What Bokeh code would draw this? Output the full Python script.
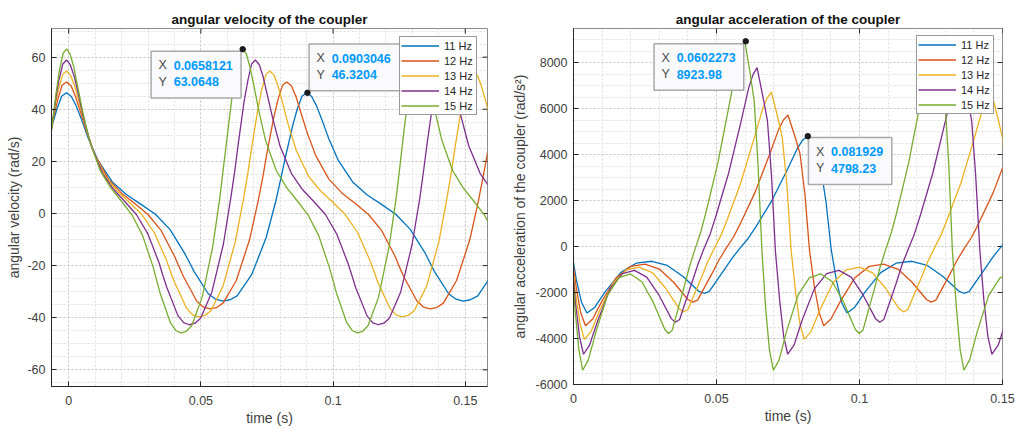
import math
from bokeh.plotting import figure
from bokeh.layouts import row
from bokeh.models import (FixedTicker, Legend, LegendItem, Range1d, CustomJSTickFormatter)
from bokeh.core.properties import value
from bokeh.embed import file_html
from bokeh.resources import INLINE

FONT = "Liberation Sans"

series_names = ["11 Hz", "12 Hz", "13 Hz", "14 Hz", "15 Hz"]
series_colors = ["#0072BD", "#D95319", "#EDB120", "#7E2F8E", "#77AC30"]

# ---- data (time in s) ----
t11 = [-0.0090, -0.0063, -0.0044, -0.0026,
       -0.0008, 0.0010, 0.0028, 0.0047, 0.0074, 0.0110, 0.0165, 0.0219, 0.0274, 0.0328, 0.0383, 0.0437, 0.0456,
       0.0474, 0.0528, 0.0556, 0.0583, 0.0610, 0.0637, 0.0692, 0.0747, 0.0783, 0.0801, 0.0819, 0.0847, 0.0865, 0.0883,
       0.0901, 0.0919, 0.0937, 0.0956, 0.0983, 0.1019, 0.1074, 0.1128, 0.1183, 0.1237, 0.1292, 0.1347, 0.1365,
       0.1383, 0.1437, 0.1465, 0.1492, 0.1519, 0.1547, 0.1601]
vel11 = [21.3, 33.6, 40.3, 45.1,
         46.3, 44.9, 41.4, 36.5, 28.9, 20.5, 12.1, 7.2, 3.5, -0.3, -6.1, -15.0, -18.6,
         -22.2, -30.8, -32.9, -33.6, -33.1, -31.6, -23.5, -9.2, 4.6, 12.8, 21.3, 33.6, 40.3, 45.1,
         46.3, 44.9, 41.4, 36.5, 28.9, 20.5, 12.1, 7.2, 3.5, -0.3, -6.1, -15.0, -18.6,
         -22.2, -30.8, -32.9, -33.6, -33.1, -31.6, -23.5]
acc11 = [4804, 3993, 3388, 1936,
         -121, -1452, -2420, -2892, -2650, -1984, -1137, -726, -641, -823, -1307, -1936, -2033,
         -1960, -992, -484, -61, 339, 847, 1960, 3328, 4271, 4622, 4804, 3993, 3388, 1936,
         -121, -1452, -2420, -2892, -2650, -1984, -1137, -726, -641, -823, -1307, -1936, -2033,
         -1960, -992, -484, -61, 339, 847, 1960]

t12 = [-0.0083, -0.0058, -0.0041, -0.0025,
       -0.0008, 0.0009, 0.0025, 0.0042, 0.0067, 0.0100, 0.0150, 0.0200, 0.0250, 0.0300, 0.0350, 0.0400, 0.0417,
       0.0434, 0.0484, 0.0509, 0.0534, 0.0559, 0.0584, 0.0634, 0.0684, 0.0717, 0.0734, 0.0750, 0.0775, 0.0792, 0.0809,
       0.0825, 0.0842, 0.0859, 0.0875, 0.0900, 0.0934, 0.0984, 0.1034, 0.1084, 0.1134, 0.1184, 0.1234, 0.1250,
       0.1267, 0.1317, 0.1342, 0.1367, 0.1392, 0.1417, 0.1467, 0.1517, 0.1550, 0.1567, 0.1584]
vel12 = [23.3, 36.6, 43.9, 49.2,
         50.5, 49.0, 45.1, 39.8, 31.6, 22.3, 13.2, 7.8, 3.8, -0.4, -6.6, -16.3, -20.3,
         -24.2, -33.6, -35.9, -36.6, -36.1, -34.4, -25.7, -10.1, 5.0, 13.9, 23.3, 36.6, 43.9, 49.2,
         50.5, 49.0, 45.1, 39.8, 31.6, 22.3, 13.2, 7.8, 3.8, -0.4, -6.6, -16.3, -20.3,
         -24.2, -33.6, -35.9, -36.6, -36.1, -34.4, -25.7, -10.1, 5.0, 13.9, 23.3]
acc12 = [5717, 4752, 4032, 2304,
         -144, -1728, -2880, -3442, -3154, -2362, -1354, -864, -763, -979, -1555, -2304, -2419,
         -2333, -1181, -576, -72, 403, 1008, 2333, 3960, 5083, 5501, 5717, 4752, 4032, 2304,
         -144, -1728, -2880, -3442, -3154, -2362, -1354, -864, -763, -979, -1555, -2304, -2419,
         -2333, -1181, -576, -72, 403, 1008, 2333, 3960, 5083, 5501, 5717]

t13 = [-0.0077, -0.0054, -0.0039, -0.0023,
       -0.0008, 0.0007, 0.0023, 0.0038, 0.0061, 0.0092, 0.0138, 0.0184, 0.0230, 0.0277, 0.0323, 0.0369, 0.0384,
       0.0400, 0.0446, 0.0469, 0.0492, 0.0515, 0.0538, 0.0584, 0.0630, 0.0661, 0.0677, 0.0692, 0.0715, 0.0730, 0.0746,
       0.0761, 0.0777, 0.0792, 0.0807, 0.0830, 0.0861, 0.0907, 0.0954, 0.1000, 0.1046, 0.1092, 0.1138, 0.1154,
       0.1169, 0.1215, 0.1238, 0.1261, 0.1284, 0.1307, 0.1354, 0.1400, 0.1430, 0.1446, 0.1461, 0.1484, 0.1500, 0.1515,
       0.1530, 0.1546, 0.1561, 0.1577, 0.1600]
vel13 = [25.2, 39.7, 47.6, 53.3,
         54.7, 53.0, 48.9, 43.2, 34.2, 24.2, 14.3, 8.5, 4.2, -0.4, -7.2, -17.7, -22.0,
         -26.3, -36.4, -38.9, -39.7, -39.1, -37.3, -27.8, -10.9, 5.5, 15.1, 25.2, 39.7, 47.6, 53.3,
         54.7, 53.0, 48.9, 43.2, 34.2, 24.2, 14.3, 8.5, 4.2, -0.4, -7.2, -17.7, -22.0,
         -26.3, -36.4, -38.9, -39.7, -39.1, -37.3, -27.8, -10.9, 5.5, 15.1, 25.2, 39.7, 47.6, 53.3,
         54.7, 53.0, 48.9, 43.2, 34.2]
acc13 = [6709, 5577, 4732, 2704,
         -169, -2028, -3380, -4039, -3701, -2772, -1589, -1014, -896, -1149, -1825, -2704, -2839,
         -2738, -1386, -676, -85, 473, 1183, 2738, 4648, 5966, 6456, 6709, 5577, 4732, 2704,
         -169, -2028, -3380, -4039, -3701, -2772, -1589, -1014, -896, -1149, -1825, -2704, -2839,
         -2738, -1386, -676, -85, 473, 1183, 2738, 4648, 5966, 6456, 6709, 5577, 4732, 2704,
         -169, -2028, -3380, -4039, -3701]

t14 = [-0.0072, -0.0051, -0.0037, -0.0022,
       -0.0008, 0.0006, 0.0021, 0.0035, 0.0056, 0.0085, 0.0128, 0.0171, 0.0213, 0.0256, 0.0299, 0.0342, 0.0356,
       0.0371, 0.0413, 0.0435, 0.0456, 0.0478, 0.0499, 0.0542, 0.0585, 0.0613, 0.0628, 0.0642, 0.0663, 0.0678, 0.0692,
       0.0706, 0.0721, 0.0735, 0.0749, 0.0771, 0.0799, 0.0842, 0.0885, 0.0928, 0.0971, 0.1013, 0.1056, 0.1071,
       0.1085, 0.1128, 0.1149, 0.1171, 0.1192, 0.1213, 0.1256, 0.1299, 0.1328, 0.1342, 0.1356, 0.1378, 0.1392, 0.1406,
       0.1421, 0.1435, 0.1449, 0.1463, 0.1485, 0.1513, 0.1556, 0.1599]
vel14 = [27.2, 42.7, 51.2, 57.4,
         58.9, 57.1, 52.6, 46.5, 36.8, 26.0, 15.4, 9.1, 4.5, -0.4, -7.7, -19.0, -23.7,
         -28.3, -39.2, -41.9, -42.7, -42.1, -40.2, -30.0, -11.8, 5.9, 16.2, 27.2, 42.7, 51.2, 57.4,
         58.9, 57.1, 52.6, 46.5, 36.8, 26.0, 15.4, 9.1, 4.5, -0.4, -7.7, -19.0, -23.7,
         -28.3, -39.2, -41.9, -42.7, -42.1, -40.2, -30.0, -11.8, 5.9, 16.2, 27.2, 42.7, 51.2, 57.4,
         58.9, 57.1, 52.6, 46.5, 36.8, 26.0, 15.4, 9.1]
acc14 = [7781, 6468, 5488, 3136,
         -196, -2352, -3920, -4684, -4292, -3214, -1842, -1176, -1039, -1333, -2117, -3136, -3293,
         -3175, -1607, -784, -98, 549, 1372, 3175, 5390, 6919, 7487, 7781, 6468, 5488, 3136,
         -196, -2352, -3920, -4684, -4292, -3214, -1842, -1176, -1039, -1333, -2117, -3136, -3293,
         -3175, -1607, -784, -98, 549, 1372, 3175, 5390, 6919, 7487, 7781, 6468, 5488, 3136,
         -196, -2352, -3920, -4684, -4292, -3214, -1842, -1176]

t15 = [-0.0068, -0.0048, -0.0035, -0.0021,
       -0.0008, 0.0005, 0.0019, 0.0032, 0.0052, 0.0079, 0.0119, 0.0159, 0.0199, 0.0239, 0.0279, 0.0319, 0.0332,
       0.0345, 0.0385, 0.0405, 0.0425, 0.0445, 0.0465, 0.0505, 0.0545, 0.0572, 0.0585, 0.0599, 0.0619, 0.0632, 0.0645,
       0.0659, 0.0672, 0.0685, 0.0699, 0.0719, 0.0745, 0.0785, 0.0825, 0.0865, 0.0905, 0.0945, 0.0985, 0.0999,
       0.1012, 0.1052, 0.1072, 0.1092, 0.1112, 0.1132, 0.1172, 0.1212, 0.1239, 0.1252, 0.1265, 0.1285, 0.1299, 0.1312,
       0.1325, 0.1339, 0.1352, 0.1365, 0.1385, 0.1412, 0.1452, 0.1492, 0.1532, 0.1572, 0.1612]
vel15 = [29.1, 45.8, 54.9, 61.5,
         63.2, 61.2, 56.4, 49.8, 39.5, 27.9, 16.5, 9.8, 4.8, -0.5, -8.3, -20.4, -25.4,
         -30.3, -42.0, -44.9, -45.8, -45.2, -43.1, -32.1, -12.6, 6.3, 17.4, 29.1, 45.8, 54.9, 61.5,
         63.2, 61.2, 56.4, 49.8, 39.5, 27.9, 16.5, 9.8, 4.8, -0.5, -8.3, -20.4, -25.4,
         -30.3, -42.0, -44.9, -45.8, -45.2, -43.1, -32.1, -12.6, 6.3, 17.4, 29.1, 45.8, 54.9, 61.5,
         63.2, 61.2, 56.4, 49.8, 39.5, 27.9, 16.5, 9.8, 4.8, -0.5, -8.3]
acc15 = [8933, 7425, 6300, 3600,
         -225, -2700, -4500, -5378, -4928, -3690, -2115, -1350, -1193, -1530, -2430, -3600, -3780,
         -3645, -1845, -900, -113, 630, 1575, 3645, 6188, 7943, 8595, 8933, 7425, 6300, 3600,
         -225, -2700, -4500, -5378, -4928, -3690, -2115, -1350, -1193, -1530, -2430, -3600, -3780,
         -3645, -1845, -900, -113, 630, 1575, 3645, 6188, 7943, 8595, 8933, 7425, 6300, 3600,
         -225, -2700, -4500, -5378, -4928, -3690, -2115, -1350, -1193, -1530, -2430]

times = [t11, t12, t13, t14, t15]
velocities = [vel11, vel12, vel13, vel14, vel15]
accelerations = [acc11, acc12, acc13, acc14, acc15]

# data tips
vel_tip_x = [0.0658121, 0.0903046]
vel_tip_y = [63.0648, 46.3204]
vel_tip_xtext = ["0.0658121", "0.0903046"]
vel_tip_ytext = ["63.0648", "46.3204"]
acc_tip_x = [0.0602273, 0.081929]
acc_tip_y = [8923.98, 4798.23]
acc_tip_xtext = ["0.0602273", "0.081929"]
acc_tip_ytext = ["8923.98", "4798.23"]

# ticks
time_ticks = [0, 0.05, 0.1, 0.15]
time_tick_labels = ["0", "0.05", "0.1", "0.15"]
vel_ticks = [-60, -40, -20, 0, 20, 40, 60]
vel_tick_labels = ["-60", "-40", "-20", "0", "20", "40", "60"]
acc_ticks = [-6000, -4000, -2000, 0, 2000, 4000, 6000, 8000]
acc_tick_labels = ["-6000", "-4000", "-2000", "0", "2000", "4000", "6000", "8000"]
time_minor = [i * 0.01 for i in range(0, 16)]
vel_minor = [i * 5 for i in range(-13, 15)]
acc_minor = [i * 500 for i in range(-12, 19)]

TXT = "#262626"
LBL = "#404040"


def fmt(tk, lb):
    return CustomJSTickFormatter(args=dict(tk_list=tk, lb_list=lb), code="""
        for (let i = 0; i < tk_list.length; i++) {
            if (Math.abs(tk_list[i] - tick) < 1e-9) { return lb_list[i]; }
        }
        return '';
    """)


def make_fig(title, xr, yr, fw, fh, borders, xt, xl, xm, yt, yl, ym, xlabel, ylabel, ylab_standoff):
    p = figure(frame_width=fw, frame_height=fh, x_range=Range1d(*xr), y_range=Range1d(*yr),
               output_backend="svg", toolbar_location=None, title=title,
               min_border_left=borders[0], min_border_right=borders[1],
               min_border_top=borders[2], min_border_bottom=borders[3],
               background_fill_color="white", border_fill_color="white",
               outline_line_color="#8c8c8c")
    p.title.text_font = FONT
    p.title.text_font_size = "13.5px"
    p.title.text_font_style = "bold"
    p.title.text_color = "#111111"
    p.title.align = "center"
    p.title.standoff = 3

    xtick = FixedTicker(ticks=xt, minor_ticks=xm)
    ytick = FixedTicker(ticks=yt, minor_ticks=ym)
    xa = p.xaxis[0]
    ya = p.yaxis[0]
    xa.ticker = xtick
    ya.ticker = ytick
    p.xgrid.ticker = xtick
    p.ygrid.ticker = ytick
    xa.formatter = fmt(xt, xl)
    ya.formatter = fmt(yt, yl)
    for ax in (xa, ya):
        ax.major_label_text_font = FONT
        ax.major_label_text_font_size = "12.5px"
        ax.major_label_text_color = LBL
        ax.axis_label_text_font = FONT
        ax.axis_label_text_font_size = "14px"
        ax.axis_label_text_font_style = "normal"
        ax.axis_label_text_color = LBL
        ax.major_tick_in = 5
        ax.major_tick_out = 0
        ax.minor_tick_in = 0
        ax.minor_tick_out = 0
        ax.axis_line_color = TXT
        ax.major_tick_line_color = TXT
    xa.axis_label = xlabel
    ya.axis_label = ylabel
    xa.major_label_standoff = 9
    xa.axis_label_standoff = 2
    ya.major_label_standoff = 6
    ya.axis_label_standoff = ylab_standoff

    # inward ticks on the top and right edges of the box (clipped to the frame)
    p.scatter(x=xt, y=[yr[1]] * len(xt), marker="dash", size=10, angle=math.pi / 2,
              line_color=TXT, line_width=1)
    p.scatter(x=[xr[1]] * len(yt), y=yt, marker="dash", size=10, angle=0,
              line_color=TXT, line_width=1)

    for g in (p.xgrid, p.ygrid):
        g.grid_line_color = "#c9c9c9"
        g.grid_line_dash = "2 2"
        g.grid_line_width = 1
        g.minor_grid_line_color = "#dedede"
        g.minor_grid_line_dash = "2 2"
        g.minor_grid_line_width = 1
    return p


def add_tip(p, tx, ty, xtext, ytext, left, top, w, h, xr, yr, fw, fh):
    sx = fw / (xr[1] - xr[0])
    sy = fh / (yr[1] - yr[0])
    cx = tx + (left + w / 2.0) / sx
    cy = ty - (top + h / 2.0) / sy
    p.rect(x=[cx], y=[cy], width=w, height=h, width_units="screen", height_units="screen",
           fill_color="#fafafc", line_color="#a9a9a9", line_width=1.5)
    p.text(x=[tx, tx], y=[ty, ty], text=["X", "Y"], x_offset=left + 7.5,
           y_offset=[top + 14.3, top + 30.8], text_align="left", text_baseline="middle",
           text_font=value(FONT), text_font_size="12.5px", text_color="#4a4a4a")
    p.text(x=[tx, tx], y=[ty, ty], text=[xtext, ytext], x_offset=left + 22.6,
           y_offset=[top + 14.3, top + 30.8], text_align="left", text_baseline="middle",
           text_font=value(FONT), text_font_size="12.5px", text_font_style="bold",
           text_color="#0099ff")
    p.scatter(x=[tx], y=[ty], size=5.5, fill_color="#1a1a1a", line_color="#1a1a1a")


def add_legend(p, rends, loc):
    lg = Legend(items=[LegendItem(label=n, renderers=[r]) for n, r in zip(series_names, rends)],
                location=loc, margin=0, padding=1, spacing=0,
                glyph_width=38, glyph_height=15, label_height=15, label_width=31,
                label_standoff=5, border_line_color="#333333", border_line_width=1,
                background_fill_color="white", background_fill_alpha=1.0,
                label_text_font=FONT, label_text_font_size="11px", label_text_color=TXT)
    p.add_layout(lg)


# ---- left: angular velocity ----
vx = (-0.0065, 0.1584)
vy = (-66.4, 71.0)
p1 = make_fig("angular velocity of the coupler", vx, vy, 436, 358, (51, 21, 28, 43),
              time_ticks, time_tick_labels, time_minor, vel_ticks, vel_tick_labels, vel_minor,
              "time (s)", "angular velocity (rad/s)", 2)
r1 = [p1.line(t, v, line_color=c, line_width=1.3) for t, v, c in zip(times, velocities, series_colors)]
add_tip(p1, vel_tip_x[0], vel_tip_y[0], vel_tip_xtext[0], vel_tip_ytext[0], -91.6, 2.0, 90, 46.7, vx, vy, 436, 358)
add_tip(p1, vel_tip_x[1], vel_tip_y[1], vel_tip_xtext[1], vel_tip_ytext[1], 1.6, -48.7, 92, 46.7, vx, vy, 436, 358)
add_legend(p1, r1, (348, 271))

# ---- right: angular acceleration ----
ax_ = (0.0, 0.15)
ay_ = (-6000, 9480)
p2 = make_fig("angular acceleration of the coupler", ax_, ay_, 429, 356, (63, 15, 27, 46),
              time_ticks, time_tick_labels, time_minor, acc_ticks, acc_tick_labels, acc_minor,
              "time (s)", "angular acceleration of the coupler (rad/s\u00b2)", 5)
r2 = [p2.line(t, a, line_color=c, line_width=1.3) for t, a, c in zip(times, accelerations, series_colors)]
add_tip(p2, acc_tip_x[0], acc_tip_y[0], acc_tip_xtext[0], acc_tip_ytext[0], -91.7, 2.4, 89.7, 46.6, ax_, ay_, 429, 356)
add_tip(p2, acc_tip_x[1], acc_tip_y[1], acc_tip_xtext[1], acc_tip_ytext[1], 0.6, 1.4, 83.4, 47, ax_, ay_, 429, 356)
add_legend(p2, r2, (343, 270))

layout = row(p1, p2)
open("out.html", "w").write(file_html(layout, INLINE))
